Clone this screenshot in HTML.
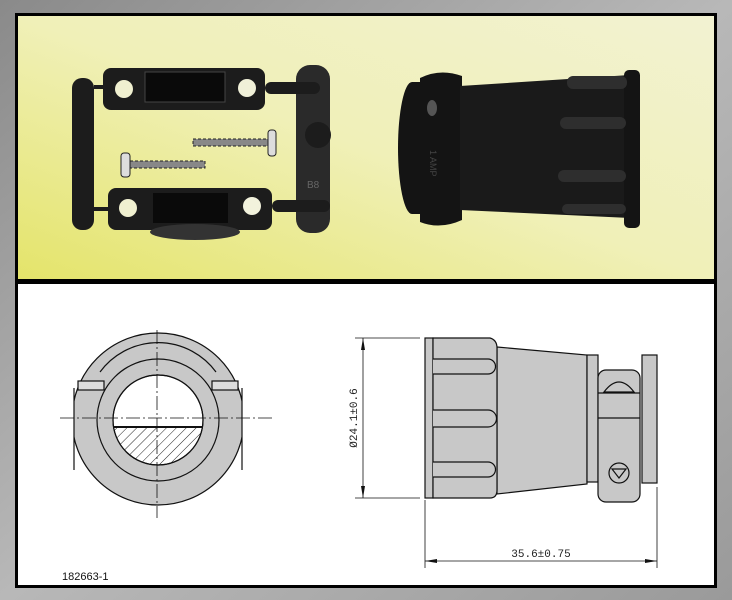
<!DOCTYPE html>
<html><head><style>
html,body{margin:0;padding:0;width:732px;height:600px;overflow:hidden;background:#999;}
</style></head><body>
<svg width="732" height="600" viewBox="0 0 732 600" xmlns="http://www.w3.org/2000/svg">
<defs>
<linearGradient id="bg" x1="0" y1="0" x2="1" y2="1"><stop offset="0" stop-color="#8a8a8a"/><stop offset="0.5" stop-color="#b8b8b8"/><stop offset="1" stop-color="#9a9a9a"/></linearGradient>
<linearGradient id="yl" x1="0" y1="1" x2="1" y2="0"><stop offset="0" stop-color="#e4e46a"/><stop offset="0.5" stop-color="#f0f0b8"/><stop offset="1" stop-color="#f2f2d2"/></linearGradient>
<pattern id="hatch" width="7" height="7" patternUnits="userSpaceOnUse" patternTransform="rotate(45)"><line x1="0" y1="0" x2="0" y2="7" stroke="#222" stroke-width="1"/></pattern>
<clipPath id="hole"><circle cx="158" cy="420" r="45"/></clipPath>
<clipPath id="sides"><rect x="74" y="300" width="168" height="220"/></clipPath>
</defs>
<rect width="732" height="600" fill="url(#bg)"/>
<rect x="15" y="13" width="702" height="575" fill="#000"/>
<rect x="18" y="16" width="696" height="263" fill="url(#yl)"/>
<rect x="18" y="284" width="696" height="301" fill="#fff"/>

<!-- left photo parts -->
<g fill="#1c1c1c">
<rect x="72" y="78" width="22" height="152" rx="10"/>
<rect x="94" y="85" width="12" height="4"/><rect x="94" y="207" width="14" height="4"/>
<rect x="103" y="68" width="162" height="42" rx="8"/>
<rect x="108" y="188" width="164" height="42" rx="8"/>
<rect x="296" y="65" width="34" height="168" rx="14" fill="#2a2a2a"/>
<rect x="265" y="82" width="55" height="12" rx="6"/>
<rect x="272" y="200" width="58" height="12" rx="6"/>
<circle cx="318" cy="135" r="13"/>
<ellipse cx="195" cy="232" rx="45" ry="8" fill="#333"/>
</g>
<rect x="145" y="72" width="80" height="30" fill="#0a0a0a" stroke="#444"/>
<rect x="153" y="193" width="75" height="30" fill="#0a0a0a"/>
<circle cx="124" cy="89" r="9" fill="#f0f0d0"/><circle cx="247" cy="88" r="9" fill="#f0f0d8"/>
<circle cx="128" cy="208" r="9" fill="#f0f0d0"/><circle cx="252" cy="206" r="9" fill="#f2f2dc"/>
<text x="307" y="188" font-family="Liberation Sans, sans-serif" font-size="10" fill="#666">B8</text>
<g>
<rect x="193" y="139" width="78" height="7" fill="#888" stroke="#222" stroke-dasharray="3 2"/>
<rect x="268" y="130" width="8" height="26" rx="3" fill="#ddd" stroke="#222"/>
<rect x="130" y="161" width="75" height="7" fill="#888" stroke="#222" stroke-dasharray="3 2"/>
<rect x="121" y="153" width="9" height="24" rx="3" fill="#ddd" stroke="#222"/>
</g>

<!-- right photo connector -->
<g fill="#141414">
<ellipse cx="412" cy="148" rx="14" ry="66"/>
<rect x="412" y="82" width="20" height="132"/>
<path d="M420 78 Q440 68 462 76 L462 220 Q440 230 420 222 Z"/>
<path d="M460 86 L630 75 L630 218 L460 210 Z" fill="#1a1a1a"/>
<rect x="624" y="70" width="16" height="158" rx="5"/>
</g>
<g fill="#2e2e2e">
<rect x="567" y="76" width="60" height="13" rx="6"/><rect x="560" y="117" width="66" height="12" rx="6"/>
<rect x="558" y="170" width="68" height="12" rx="6"/><rect x="562" y="204" width="64" height="10" rx="5"/>
</g>
<ellipse cx="432" cy="108" rx="5" ry="8" fill="#555"/>
<text x="0" y="0" transform="translate(430,150) rotate(90)" font-family="Liberation Sans, sans-serif" font-size="9" fill="#444">1 AMP</text>

<!-- left drawing -->
<g stroke="#111" stroke-width="1.2">
<path d="M148 343 Q158 333 168 343 Z" fill="#c8c8c8"/>
<g clip-path="url(#sides)"><circle cx="158" cy="419" r="86" fill="#c8c8c8"/></g>
<path d="M74 388 L74 470 M242 388 L242 470" fill="none"/>
<rect x="78" y="381" width="26" height="9" fill="#ddd"/>
<rect x="212" y="381" width="26" height="9" fill="#ddd"/>
<path d="M100 372 A72 72 0 0 1 216 372" fill="none"/>
<circle cx="158" cy="420" r="61" fill="#c8c8c8"/>
<circle cx="158" cy="420" r="45" fill="#fff"/>
</g>
<g clip-path="url(#hole)">
<rect x="100" y="427" width="120" height="50" fill="url(#hatch)"/>
<line x1="100" y1="427" x2="220" y2="427" stroke="#111" stroke-width="2"/>
</g>
<circle cx="158" cy="420" r="45" fill="none" stroke="#111" stroke-width="1.2"/>
<g stroke="#111" stroke-width="0.8" stroke-dasharray="14 3 2 3">
<line x1="60" y1="418" x2="272" y2="418"/>
<line x1="157" y1="330" x2="157" y2="518"/>
</g>

<!-- right drawing -->
<g stroke="#111" stroke-width="1.2" fill="#c8c8c8">
<path d="M497 347 L587 355 L587 484 L497 494 Z"/>
<rect x="587" y="355" width="11" height="127"/>
<rect x="642" y="355" width="15" height="128"/>
<rect x="598" y="370" width="42" height="132" rx="8"/>
<path d="M604 392 Q619 372 634 392 Z"/>
<line x1="598" y1="393" x2="640" y2="393"/><line x1="598" y1="418" x2="640" y2="418"/>
<circle cx="619" cy="473" r="10"/>
<path d="M612 469 L626 469 L619 478 Z" fill="none"/>
<rect x="425" y="338" width="8" height="160"/>
<path d="M433 338 L490 338 Q497 340 497 348 L497 490 Q497 498 490 498 L433 498 Z"/>
<path d="M433 359 L488 359 A7.5 7.5 0 0 1 488 374 L433 374"/>
<path d="M433 410 L488 410 A8.5 8.5 0 0 1 488 427 L433 427"/>
<path d="M433 462 L488 462 A7.5 7.5 0 0 1 488 477 L433 477"/>
</g>
<g stroke="#111" stroke-width="0.8" fill="none">
<line x1="355" y1="338" x2="420" y2="338"/><line x1="355" y1="498" x2="420" y2="498"/>
<line x1="363" y1="338" x2="363" y2="498"/>
<line x1="425" y1="500" x2="425" y2="568"/><line x1="657" y1="487" x2="657" y2="568"/>
<line x1="425" y1="561" x2="657" y2="561"/>
</g>
<g fill="#111">
<path d="M363 338 L361 350 L365 350 Z"/><path d="M363 498 L361 486 L365 486 Z"/>
<path d="M425 561 L437 559 L437 563 Z"/><path d="M657 561 L645 559 L645 563 Z"/>
</g>
<text transform="translate(357,418) rotate(-90)" text-anchor="middle" font-family="Liberation Mono, monospace" font-size="11" fill="#222">Ø24.1±0.6</text>
<text x="541" y="557" text-anchor="middle" font-family="Liberation Mono, monospace" font-size="11" fill="#222">35.6±0.75</text>
<text x="62" y="580" font-family="Liberation Sans, sans-serif" font-size="11" fill="#111">182663-1</text>
</svg>
</body></html>
